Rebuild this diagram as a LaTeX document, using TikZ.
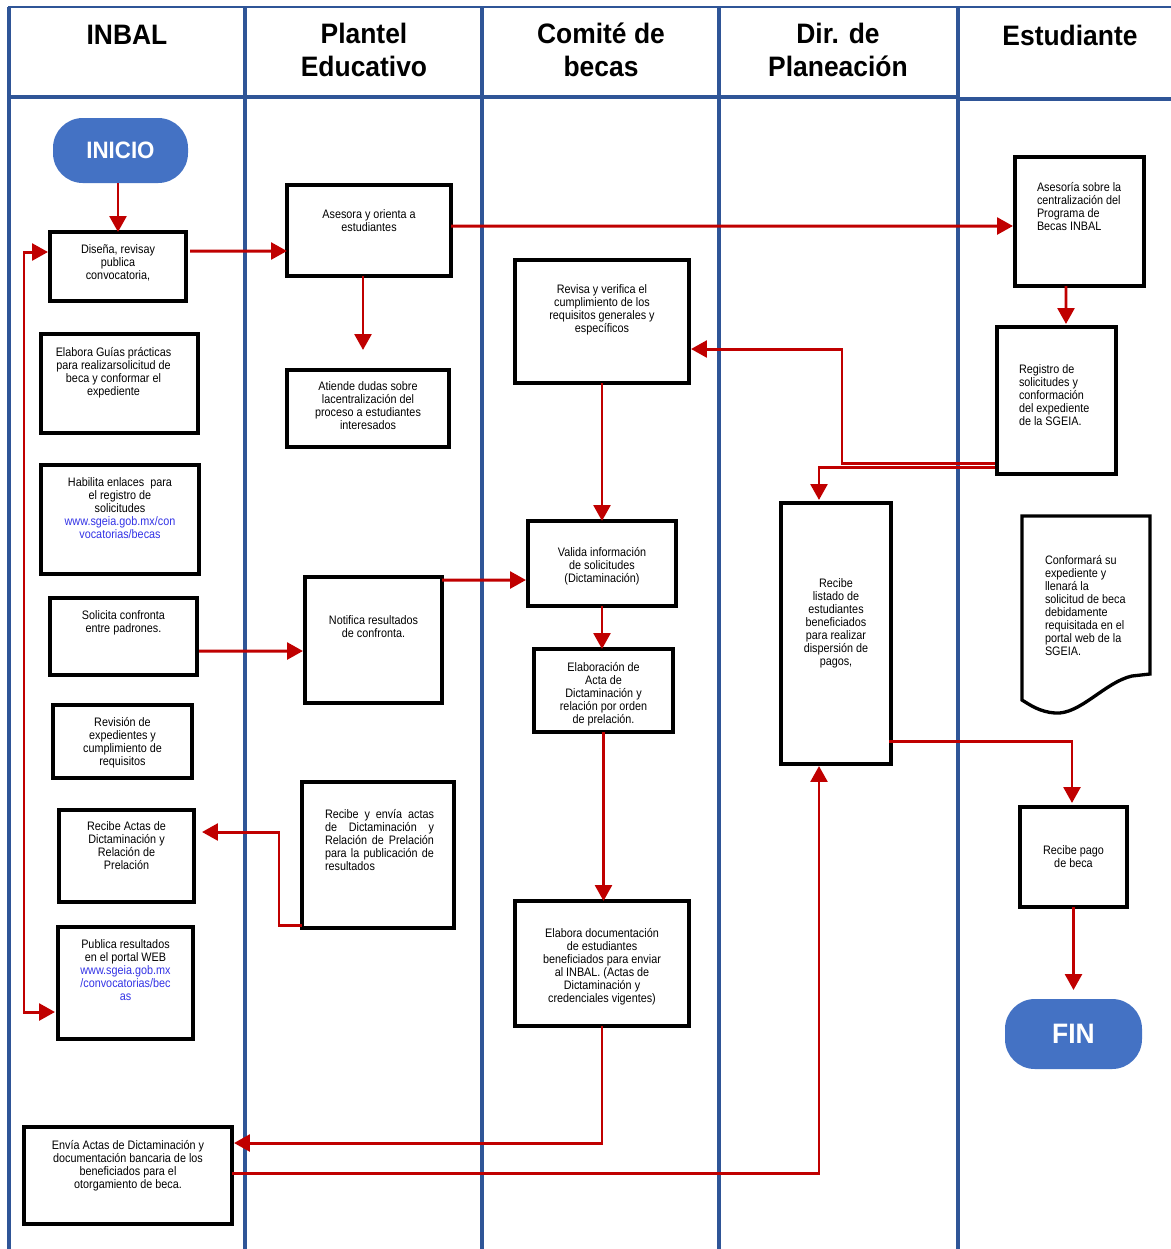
\documentclass[tikz,border=0pt]{standalone}
\usepackage{fontspec}
\setmainfont{Liberation Sans}
\newfontfamily\narrowfont{Liberation Sans}[FakeStretch=0.88]
\newfontfamily\headfont{Liberation Sans}[FakeStretch=0.94]
\usetikzlibrary{arrows.meta,calc}

\newdimen\px \px=0.02cm

\definecolor{laneblue}{RGB}{47,85,151}
\definecolor{flowred}{RGB}{192,0,0}
\definecolor{termblue}{RGB}{68,114,196}
\definecolor{urlblue}{RGB}{51,51,230}

\tikzset{
  >={Triangle[length=9pt,width=9.5pt]},
  lane/.style={draw=laneblue, line width=2.4pt},
  lanehead/.style={font=\headfont\bfseries\fontsize{16}{19}\selectfont, align=center, inner sep=0pt},
  proc/.style n args={3}{draw, line width=1.9pt, inner sep=0pt, outer sep=0pt,
    font=\narrowfont\fontsize{7}{7.4}\selectfont,
    execute at begin node={\begin{minipage}[c][#2\px][t]{#1\px}\vspace*{#3\px}\centering},
    execute at end node={\par\end{minipage}}},
  docnode/.style n args={3}{proc={#1}{#2}{#3}, draw=none},
  term/.style n args={2}{fill=termblue, rounded corners=17pt, minimum width=#1\px,
    minimum height=#2\px, inner sep=0pt, outer sep=0pt, text=white},
  flow/.style={draw=flowred, line width=1.7pt, ->},
}

\begin{document}
\begin{tikzpicture}[x=0.02cm, y=-0.02cm]
 \useasboundingbox (0,0) rectangle (1171,1249);
 \fill[white] (0,0) rectangle (1171,1249);

 \draw[lane, line width=1.5pt] (8,7) -- (1171,7);
 \draw[lane] (9,97) -- (958,97);
 \draw[lane] (958,99) -- (1171,99);
 \draw[lane] (9,7) -- (9,1249);
 \draw[lane] (245,7) -- (245,1249);
 \draw[lane] (482,7) -- (482,1249);
 \draw[lane] (719,7) -- (719,1249);
 \draw[lane] (958,7) -- (958,1249);

 \node[lanehead] (hInbal) at (127,35) {INBAL};
 \node[lanehead] (hPlantel) at (364,50) {Plantel\\Educativo};
 \node[lanehead] (hComite) at (601,50) {Comité de\\becas};
 \node[lanehead] (hDir) at (838,50) {Dir. de\\Planeación};
 \node[lanehead] (hEst) at (1070,35) {Estudiante};

 \node[term={135}{65}, font=\headfont\bfseries\fontsize{13.5}{15}\selectfont] (ini) at (120.5,150.5) {INICIO};
 \node[proc={136}{69}{13}] (dis) at (118,266.5) {Diseña, revisay\\publica\\convocatoria,};
 \node[proc={157}{99}{13}] (gui) at (119.5,383.5) {\rightskip=12\px plus 1fil\relax Elabora Guías prácticas\\para realizarsolicitud de\\beca y conformar el\\expediente\par};
 \node[proc={158}{109}{13}] (hab) at (120,519.5) {Habilita enlaces~ para\\el registro de\\solicitudes\\{\color{urlblue}www.sgeia.gob.mx/con}\\{\color{urlblue}vocatorias/becas}};
 \node[proc={147}{77}{13}] (sol) at (123.5,636.5) {Solicita confronta\\entre padrones.};
 \node[proc={139}{73}{12}] (rev) at (122.5,741.5) {Revisión de\\expedientes y\\cumplimiento de\\requisitos};
 \node[proc={135}{92}{12}] (rac) at (126.5,856) {Recibe Actas de\\Dictaminación y\\Relación de\\Prelación};
 \node[proc={135}{112}{13}] (pub) at (125.5,983) {Publica resultados\\en el portal WEB\\{\color{urlblue}www.sgeia.gob.mx}\\{\color{urlblue}/convocatorias/bec}\\{\color{urlblue}as}};
 \node[proc={208}{97}{13}] (env) at (128,1175.5) {Envía Actas de Dictaminación y\\documentación bancaria de los\\beneficiados para el\\otorgamiento de beca.};

 \node[proc={164}{91}{25}] (ase) at (369,230.5) {Asesora y orienta a\\estudiantes};
 \node[proc={162}{77}{12}] (ati) at (368,408.5) {Atiende dudas sobre\\lacentralización del\\proceso a estudiantes\\interesados};
 \node[proc={137}{126}{39}] (not) at (373.5,640) {Notifica resultados\\de confronta.};
 \node[proc={152}{146}{27}] (rye) at (378,855) {\leftskip=23\px\relax\rightskip=20\px\relax\parfillskip=0pt plus 1fil\relax Recibe y envía actas\linebreak de~ Dictaminación~ y\linebreak Relación de Prelación\linebreak para la publicación de\linebreak resultados\par};

 \node[proc={174}{123}{25}] (rvs) at (602,321.5) {Revisa y verifica el\\cumplimiento de los\\requisitos generales y\\específicos};
 \node[proc={148}{85}{26}] (val) at (602,563.5) {Valida información\\de solicitudes\\(Dictaminación)};
 \node[proc={139}{83}{13}] (ela) at (603.5,690.5) {Elaboración de\\Acta de\\Dictaminación y\\relación por orden\\de prelación.};
 \node[proc={174}{125}{27}] (edo) at (602,963.5) {Elabora documentación\\de estudiantes\\beneficiados para enviar\\al INBAL. (Actas de\\Dictaminación y\\credenciales vigentes)};

 \node[proc={110}{261}{76}] (rli) at (836,633.5) {Recibe\\listado de\\estudiantes\\beneficiados\\para realizar\\dispersión de\\pagos,};

 \node[proc={129}{129}{25}] (aso) at (1079.5,221.5) {\raggedright\leftskip=22\px\relax Asesoría sobre la\\centralización del\\Programa de\\Becas INBAL\par};
 \node[proc={119}{147}{38}] (reg) at (1056.5,400.5) {\raggedright\leftskip=22\px\relax Registro de\\solicitudes y\\conformación\\del expediente\\de la SGEIA.\par};
 \node[docnode={128}{197}{39}] (conf) at (1086,614.5) {\raggedright\leftskip=23\px\relax Conformará su\\expediente y\\llenará la\\solicitud de beca\\debidamente\\requisitada en el\\portal web de la\\SGEIA.\par};
 \draw[line width=1.9pt] (1022,516) -- (1150,516) -- (1150,674) -- (1132,676) .. controls (1105,682) and (1080,715) .. (1055,713) .. controls (1040,712) and (1030,705) .. (1022,700) -- cycle;
 \node[proc={107}{100}{39}] (pag) at (1073.5,857) {Recibe pago\\de beca};
 \node[term={137}{70}, font=\headfont\bfseries\fontsize{16}{18}\selectfont] (fin) at (1073.5,1034) {FIN};

 \draw[flow] (ini.south -| dis.north) -- (dis.north);
 \draw[flow] ($(dis.east)+(4,-15.5)$) -- ($(ase.west)+(0,20.5)$);
 \draw[flow] ($(ase.east)+(0,-4.5)$) -- ($(aso.west)+(-2,4.5)$);
 \draw[flow] ($(ase.south)+(-6,0)$) -- ($(ati.north)+(-5,-20)$);
 \draw[flow,<->] ($(dis.west)+(-2,-14.5)$) -| ($(pub.west)+(-34,29)$) -- ($(pub.west)+(-3,29)$);
 \draw[flow] ($(sol.east)+(2,14.5)$) -- ($(not.west)+(-2,11)$);
 \draw[flow] ($(not.north east)+(0,3)$) -- ($(val.west)+(-2,16.5)$);
 \draw[flow] (rvs.south) -- (val.north);
 \draw[flow] (val.south) -- (val.south |- ela.north);
 \draw[flow] (ela.south) -- (ela.south |- edo.north);
 \draw[flow] (edo.south) |- ($(env.east)+(2,-32.5)$);
 \draw[flow] ($(env.east)+(0,-2.5)$) -| ($(rli.south)+(-17,2)$);
 \draw[flow] ($(rli.east)+(-2,107.5)$) -| ($(pag.north)+(-1.5,-4)$);
 \draw[flow] (pag.south) -- ($(fin.north)+(0,-9)$);
 \draw[flow] ($(aso.south)+(-13.5,0)$) -- ($(reg.north)+(9.5,-3)$);
 \draw[flow] ($(reg.south west)+(-2,-11)$) -| ($(rvs.east)+(153,27.5)$) -- ($(rvs.east)+(2,27.5)$);
 \draw[flow] ($(reg.south west)+(-2,-7)$) -| ($(rli.north)+(-17,-3)$);
 \draw[flow] ($(rye.south west)+(0,-3)$) -| ($(rac.east)+(85,-24)$) -- ($(rac.east)+(8,-24)$);
\end{tikzpicture}
\end{document}
